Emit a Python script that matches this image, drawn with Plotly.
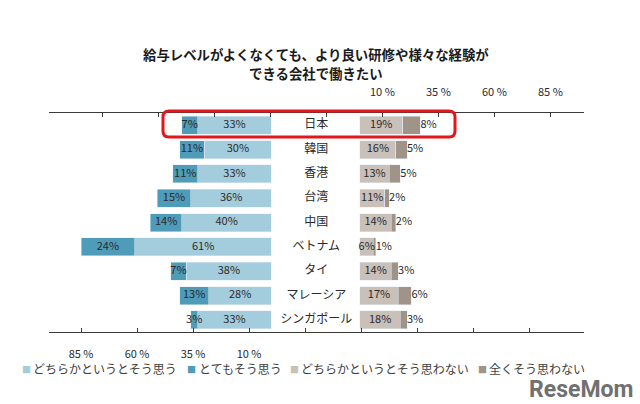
import plotly.graph_objects as go

categories = ["日本", "韓国", "香港", "台湾", "中国", "ベトナム", "タイ", "マレーシア", "シンガポール"]
agree_somewhat = [33, 30, 33, 36, 40, 61, 38, 28, 33]      # どちらかというとそう思う
agree_strong = [7, 11, 11, 15, 14, 24, 7, 13, 3]            # とてもそう思う
disagree_somewhat = [19, 16, 13, 11, 14, 6, 14, 17, 18]     # どちらかというとそう思わない
disagree_strong = [8, 5, 5, 2, 2, 1, 3, 6, 3]               # 全くそう思わない
series_names = ["どちらかというとそう思う", "とてもそう思う", "どちらかというとそう思わない", "全くそう思わない"]
left_ticks = [85, 60, 35, 10, -15, -40, -65, -90, -115]
left_ticktext = ["85 %", "60 %", "35 %", "10 %", "", "", "", "", ""]
right_ticks = [-115, -90, -65, -40, -15, 10, 35, 60, 85]
right_ticktext = ["", "", "", "", "", "10 %", "35 %", "60 %", "85 %"]
title_lines = ["給与レベルがよくなくても、より良い研修や様々な経験が", "できる会社で働きたい"]

C_LB = "#a3cddd"
C_TEAL = "#4f9cb8"
C_LG = "#c9c0b9"
C_DG = "#a09388"
colors = [C_LB, C_TEAL, C_LG, C_DG]

FONT = "Noto Sans CJK JP, Noto Sans, sans-serif"
TXT = "#2a2a2a"

# plot area in pixels
L, R, T, B = 49, 584, 113, 332
W, H = R - L, B - T

def px(x):
    return (x - L) / W

def py(y):
    return (B - y) / H

fig = go.Figure()

def pct(v):
    return [f"{a}%" for a in v]

# left side (reversed axis)
fig.add_trace(go.Bar(y=categories, x=agree_somewhat, orientation="h", marker_color=C_LB,
                     xaxis="x", yaxis="y", hoverinfo="skip", showlegend=False))
fig.add_trace(go.Bar(y=categories, x=agree_strong, orientation="h", marker_color=C_TEAL,
                     xaxis="x", yaxis="y", hoverinfo="skip", showlegend=False))
# right side
fig.add_trace(go.Bar(y=categories, x=disagree_somewhat, orientation="h", marker_color=C_LG,
                     xaxis="x2", yaxis="y", hoverinfo="skip", showlegend=False))
fig.add_trace(go.Bar(y=categories, x=disagree_strong, orientation="h", marker_color=C_DG,
                     xaxis="x2", yaxis="y", hoverinfo="skip", showlegend=False))

lblfont = dict(family=FONT, size=11, color=TXT)
fig.add_trace(go.Scatter(y=categories, x=[a / 2 for a in agree_somewhat], mode="text",
                         text=pct(agree_somewhat), textfont=lblfont, xaxis="x", yaxis="y",
                         hoverinfo="skip", showlegend=False))
fig.add_trace(go.Scatter(y=categories, x=[a + b / 2 for a, b in zip(agree_somewhat, agree_strong)],
                         mode="text", text=pct(agree_strong), textfont=lblfont, xaxis="x", yaxis="y",
                         hoverinfo="skip", showlegend=False))
fig.add_trace(go.Scatter(y=categories, x=[a / 2 for a in disagree_somewhat], mode="text",
                         text=pct(disagree_somewhat), textfont=lblfont, xaxis="x2", yaxis="y",
                         hoverinfo="skip", showlegend=False))
fig.add_trace(go.Scatter(y=categories, x=[a + b for a, b in zip(disagree_somewhat, disagree_strong)],
                         mode="text", text=pct(disagree_strong), textposition="middle right",
                         textfont=lblfont, xaxis="x2", yaxis="y", hoverinfo="skip", showlegend=False))
# category labels in the middle gap
fig.add_trace(go.Scatter(y=categories, x=[-19.5] * len(categories), mode="text", text=categories,
                         textfont=dict(family=FONT, size=12, color=TXT), xaxis="x2", yaxis="y",
                         hoverinfo="skip", showlegend=False))

axis_common = dict(showgrid=False, zeroline=False, showline=True, linecolor="#3a3a3a", linewidth=1,
                   ticks="inside", ticklen=4, tickcolor="#3a3a3a", tickmode="array", automargin=False,
                   tickfont=dict(family=FONT, size=11, color=TXT), ticklabelstandoff=12)

fig.update_layout(
    width=640, height=404,
    margin=dict(l=L, r=640 - R, t=T, b=404 - B),
    paper_bgcolor="white", plot_bgcolor="white",
    barmode="stack", bargap=0.26,
    xaxis=dict(range=[99.3, -139.5], tickvals=left_ticks, ticktext=left_ticktext, side="bottom",
               **axis_common),
    xaxis2=dict(range=[-138.8, 100], tickvals=right_ticks, ticktext=right_ticktext, side="top",
                overlaying="x", **axis_common),
    yaxis=dict(autorange="reversed", showticklabels=False, showgrid=False, zeroline=False,
               showline=False, ticks="", automargin=False),
    showlegend=False,
)

anns = []
for line, ypx in zip(title_lines, [54, 73]):
    anns.append(dict(xref="paper", yref="paper", x=px(316), y=py(ypx), xanchor="center", yanchor="middle",
                     text="<b>" + line + "</b>", showarrow=False, borderpad=0,
                     font=dict(family=FONT, size=13.4, color="#1a1a1a")))

# legend built from annotations
sq_x = [26, 191, 294, 482]
tx_x = [31, 197, 299, 487]
for name, col, sx, tx in zip(series_names, colors, sq_x, tx_x):
    anns.append(dict(xref="paper", yref="paper", x=px(sx), y=py(369), xanchor="center", yanchor="middle",
                     text="■", showarrow=False, font=dict(family=FONT, size=9, color=col)))
    anns.append(dict(xref="paper", yref="paper", x=px(tx), y=py(368), xanchor="left", yanchor="middle",
                     text=name, showarrow=False, font=dict(family=FONT, size=12, color="#404040")))

anns.append(dict(xref="paper", yref="paper", x=px(581), y=py(389), xanchor="center", yanchor="middle",
                 text="<b>ReseMom</b>", showarrow=False,
                 font=dict(family="Liberation Sans Narrow, Roboto, sans-serif", size=23, color="#707070")))
fig.update_layout(annotations=anns)

# red rounded highlight box around 日本
x0, x1 = px(163), px(455)
y0, y1 = py(137), py(111)
rx, ry = 6 / W, 6 / H
path = (f"M {x0+rx},{y1} L {x1-rx},{y1} Q {x1},{y1} {x1},{y1-ry} L {x1},{y0+ry} Q {x1},{y0} {x1-rx},{y0} "
        f"L {x0+rx},{y0} Q {x0},{y0} {x0},{y0+ry} L {x0},{y1-ry} Q {x0},{y1} {x0+rx},{y1} Z")
fig.add_shape(type="path", path=path, xref="paper", yref="paper", line=dict(color="#e0181c", width=3),
              layer="above")

fig.write_html("out.html", config={"displayModeBar": False},
               post_script="document.body.style.margin='0';")
